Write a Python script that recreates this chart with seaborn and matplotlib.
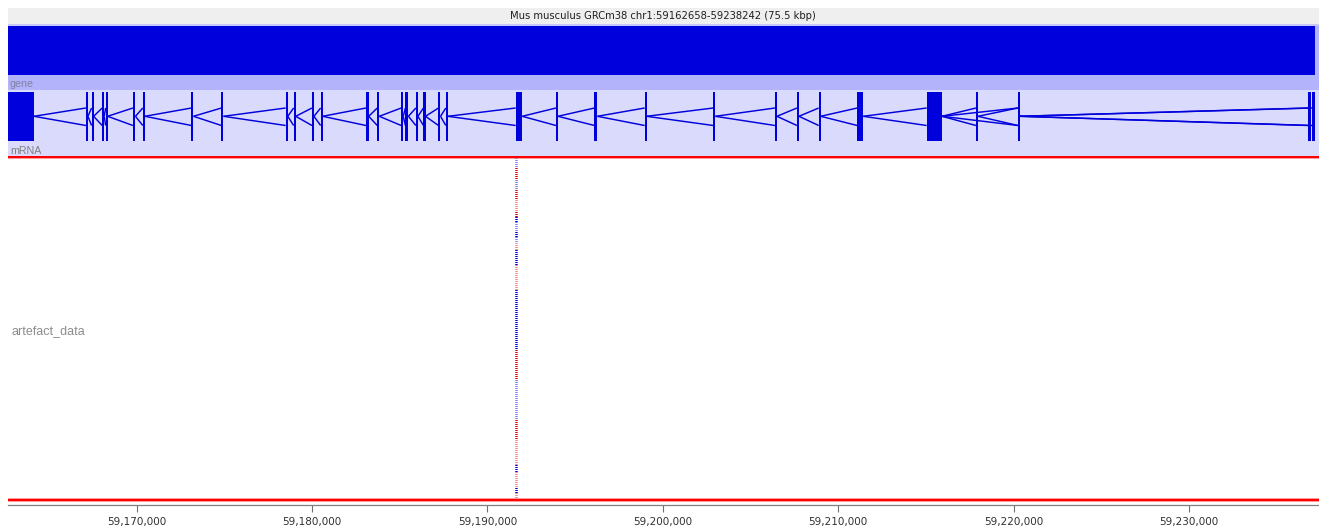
import matplotlib
matplotlib.use("Agg")
import matplotlib.pyplot as plt
import seaborn as sns
from matplotlib.collections import LineCollection

sns.set_theme(style="white")
plt.rcParams['font.family'] = ['DejaVu Sans']
plt.rcParams['lines.scale_dashes'] = False

# ---------------- data ----------------
TITLE = "Mus musculus GRCm38 chr1:59162658-59238242 (75.5 kbp)"
view_start = 59162658
view_end = 59237414
gene_start = 59162658
gene_end = 59237183

exon_starts = [59162658, 59167100, 59167425, 59168030, 59168225, 59169780, 59170345,
               59173120, 59174830, 59178490, 59178945, 59179990, 59180485, 59183070,
               59183715, 59185080, 59185320, 59185915, 59186350, 59187205, 59187625,
               59191607, 59193905, 59196100, 59198960, 59202875, 59206390, 59207645,
               59208885, 59211085, 59215042, 59217855, 59220250, 59236801, 59237029]
exon_ends = [59164140, 59167215, 59167540, 59168145, 59168340, 59169925, 59170465,
             59173235, 59174945, 59178610, 59179065, 59180105, 59180600, 59183225,
             59183830, 59185195, 59185490, 59186030, 59186465, 59187320, 59187740,
             59191983, 59194020, 59196270, 59199075, 59202990, 59206505, 59207760,
             59209000, 59211427, 59215915, 59217970, 59220365, 59236955, 59237183]
# introns as (left exon index, right exon index)
intron_pairs = [(i, i + 1) for i in range(33)] + [(30, 32), (32, 34)]

artefact_pos = 59191653
artefact_y0 = [158, 168, 180, 190, 200, 212, 217, 222, 232, 237, 243, 250, 265, 290,
               350, 380, 420, 440, 465, 472, 488, 493]
artefact_y1 = [168, 180, 190, 200, 212, 217, 222, 232, 237, 243, 250, 265, 290, 350,
               380, 420, 440, 465, 472, 488, 493, 499]
artefact_col = ['lb', 'r', 'lb', 'r', 'p', 'r', 'b', 'lb', 'b', 'lb', 'p', 'b', 'p', 'b',
                'r', 'lb', 'r', 'p', 'b', 'p', 'b', 'p']

tick_positions = [59170000, 59180000, 59190000, 59200000, 59210000, 59220000, 59230000]
track_labels = ['gene', 'mRNA', 'artefact_data']

# ---------------- style ----------------
W, H = 1319, 530
BLUE = '#0000dd'
col_map = {'r': '#e00000', 'p': '#f08888', 'b': '#0000dd', 'lb': '#8080ee'}

fig = plt.figure(figsize=(W / 100, H / 100), dpi=100, facecolor='white')
ax = fig.add_axes([8 / W, 25 / H, 1311 / W, 505 / H])
ax.set_xlim(view_start, view_end)
ax.set_ylim(505, 0)
ax.set_facecolor('white')

# title bar
ax.axhspan(8, 24, color='#efefef', lw=0)
fig.text(663 / W, 1 - 16 / H, TITLE, ha='center', va='center', fontsize=7.2,
         color='#202020')

# gene track
ax.axhspan(24, 90, color='#b3b3fb', lw=0)
ax.axhspan(24, 25.5, color='#c8c8f8', lw=0)
ax.broken_barh([(gene_start, gene_end - gene_start)], (26, 49), color=BLUE, lw=0)

# mRNA track
ax.axhspan(90, 156, color='#dadafc', lw=0)
ax.broken_barh([(s, e - s) for s, e in zip(exon_starts, exon_ends)], (92, 49),
               color=BLUE, lw=0)
segs = []
for a, b in intron_pairs:
    x0 = exon_ends[a]
    x1 = exon_starts[b]
    segs.append([(x0, 116.3), (x1, 108)])
    segs.append([(x0, 116.3), (x1, 125.5)])
ax.add_collection(LineCollection(segs, colors=BLUE, linewidths=1.05))

# red separator lines
for y in (157.3, 499.8):
    ax.axhspan(y - 1.8, y + 1.8, color='#ff9c9c', lw=0)
    ax.axhspan(y - 1.0, y + 1.0, color='#ff0000', lw=0)

# artefact data
for y0, y1, c in zip(artefact_y0, artefact_y1, artefact_col):
    ax.plot([artefact_pos, artefact_pos], [y0, y1], color=col_map[c], lw=1.8,
            dashes=(0.72, 0.72), antialiased=True, snap=False,
            solid_capstyle='butt', dash_capstyle='butt')

# labels
tr = ax.get_yaxis_transform()
lab_font = ['Liberation Sans', 'DejaVu Sans']
ax.text(2 / 1311, 84, track_labels[0], transform=tr, fontsize=7.7, color='#8080a0',
        va='center', ha='left', family=lab_font)
ax.text(2 / 1311, 151, track_labels[1], transform=tr, fontsize=7.7, color='#808080',
        va='center', ha='left', family=lab_font)
ax.text(3 / 1311, 331, track_labels[2], transform=tr, fontsize=9, color='#8c8c8c',
        va='center', ha='left', family=lab_font)

# ruler
for s in ('top', 'left', 'right'):
    ax.spines[s].set_visible(False)
ax.spines['bottom'].set_color('#808080')
ax.spines['bottom'].set_linewidth(0.9)
ax.set_yticks([])
ax.set_xticks(tick_positions)
ax.set_xticklabels([f"{t:,}" for t in tick_positions])
ax.tick_params(axis='x', bottom=True, direction='out', length=5.2, width=0.8,
               color='#707070', labelsize=7.5, labelcolor='#303030', pad=3.2)
sns.despine(ax=ax, left=True, top=True, right=True)

fig.savefig('out.png', dpi=100, facecolor='white')
